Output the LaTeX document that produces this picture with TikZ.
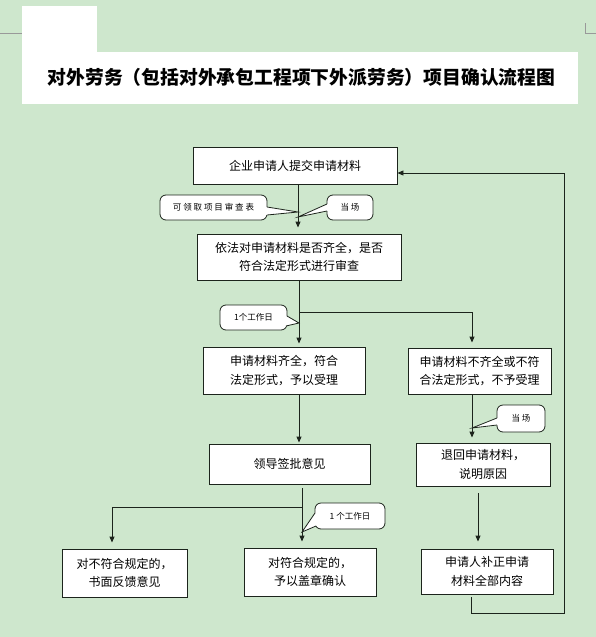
\documentclass[tikz,border=0pt]{standalone}
\usepackage{fontspec}
\usetikzlibrary{arrows.meta}
\newfontfamily\cjk{Noto Sans CJK SC}
\definecolor{bg}{RGB}{206,231,205}
\definecolor{lnc}{RGB}{28,36,28}
\newcommand\callptr[3]{%
  \fill[white] (#1) -- (#3) -- (#2) -- cycle;
  \draw[white, line width=1.4pt] (#1) -- (#2);
  \draw[cln] (#1) -- (#3) -- (#2);}
\begin{document}
\begin{tikzpicture}[x=1pt,y=-1pt,
  box/.style={draw=lnc, line width=0.9pt, fill=white, inner sep=0pt, align=center,
    font=\cjk\fontsize{12}{18.5}\selectfont},
  co/.style={draw=lnc, line width=0.8pt, fill=white, rounded corners=6pt, inner sep=0pt,
    font=\cjk\fontsize{8.5}{10}\selectfont},
  cln/.style={draw=lnc, line width=0.8pt},
  lnk/.style={draw=lnc, line width=0.9pt},
  arr/.style={lnk, -{Triangle[length=6pt,width=5pt]}},
]
\fill[bg] (0,0) rectangle (596,637);
\useasboundingbox (0,0) rectangle (596,637);
% page corner marks
\draw[black!40, line width=0.6pt] (0,33.5) -- (22,33.5);
\draw[black!40, line width=0.6pt] (585.5,23) -- (585.5,33.5) -- (596,33.5);
% title area
\fill[white] (22,6) rectangle (97,52);
\fill[white] (22,52) rectangle (578,104);
\node[font=\cjk\bfseries\fontsize{18.8}{20}\selectfont, inner sep=0pt] (title) at (301.5,77)
  {对外劳务（包括对外承包工程项下外派劳务）项目确认流程图};

% boxes
\node[box, minimum width=204pt, minimum height=37pt] (b1) at (295,165.5) {企业申请人提交申请材料};
\node[box, minimum width=204pt, minimum height=46pt] (b2) at (299,257) {依法对申请材料是否齐全，是否\\符合法定形式进行审查};
\node[box, minimum width=162pt, minimum height=47pt] (b3) at (284,370.5) {申请材料齐全，符合\\法定形式，予以受理};
\node[box, minimum width=143pt, minimum height=46pt] (b4) at (479.5,371) {申请材料不齐全或不符\\合法定形式，不予受理};
\node[box, minimum width=161pt, minimum height=40pt] (b5) at (289.5,464) {领导签批意见};
\node[box, minimum width=134pt, minimum height=43pt] (b6) at (483,464.5) {退回申请材料，\\说明原因};
\node[box, minimum width=125pt, minimum height=48pt] (b7) at (124.5,573) {对不符合规定的，\\书面反馈意见};
\node[box, minimum width=132pt, minimum height=48pt] (b8) at (310,572) {对符合规定的，\\予以盖章确认};
\node[box, minimum width=132pt, minimum height=45pt] (b9) at (487,571.5) {申请人补正申请\\材料全部内容};

% connectors
\draw[arr, shorten >=6pt] ([xshift=3pt]b1.south) -- ([xshift=-1pt]b2.north);
\coordinate (j1) at (299,312);
\coordinate (k1) at (472,312);
\draw[lnk] (b2.south) -- (j1);
\draw[arr, shorten >=3pt] (j1) -- (j1 |- b3.north);
\draw[arr, shorten >=5pt] (j1) -- (k1) -- (k1 |- b4.north);
\draw[arr, shorten >=1pt] (j1 |- b3.south) -- (j1 |- b5.north);
\draw[arr, shorten >=5pt] (k1 |- b4.south) -- (k1 |- b6.north);
\coordinate (j2) at (302,507);
\coordinate (k2) at (112,507);
\draw[lnk, shorten <=4pt] (j2 |- b5.south) -- (j2);
\draw[arr, shorten >=6pt] (j2) -- (j2 |- b8.north);
\draw[arr, shorten >=6pt] (j2) -- (k2) -- (k2 |- b7.north);
\coordinate (k3) at (478,520);
\draw[arr, shorten <=7pt, shorten >=7pt] (k3 |- b6.south) -- (k3 |- b9.north);
\coordinate (l1) at (471,613);
\coordinate (l2) at (564,613);
\coordinate (e1) at ([yshift=-7.5pt]b1.east);
\draw[arr, shorten <=3pt] (l1 |- b9.south) -- (l1) -- (l2) -- (l2 |- e1) -- (e1);

% callouts
\node[co, minimum width=107pt, minimum height=25pt] (c1) at (213.5,207.5)
  {\addfontfeature{LetterSpace=22}可领取项目审查表};
\coordinate (t1) at (298,212);
\callptr{267,207}{267,215}{t1}
\node[co, minimum width=46pt, minimum height=25pt] (c2) at (350,207.5)
  {\addfontfeature{LetterSpace=22}当场};
\coordinate (t2) at (298,217);
\callptr{327,204}{327,211}{t2}
\node[co, minimum width=67pt, minimum height=25pt] (c3) at (253.5,317.5) {1个工作日};
\coordinate (t3) at (299,323);
\callptr{287,316}{286,326}{t3}
\node[co, minimum width=48pt, minimum height=27pt] (c4) at (521,418.5)
  {\addfontfeature{LetterSpace=22}当场};
\coordinate (t4) at (472,428);
\callptr{497,418}{497,425}{t4}
\node[co, minimum width=70pt, minimum height=26pt] (c5) at (350,516) {1 个工作日};
\coordinate (t5) at (302,532);
\callptr{315,513}{316,526}{t5}
\end{tikzpicture}
\end{document}
